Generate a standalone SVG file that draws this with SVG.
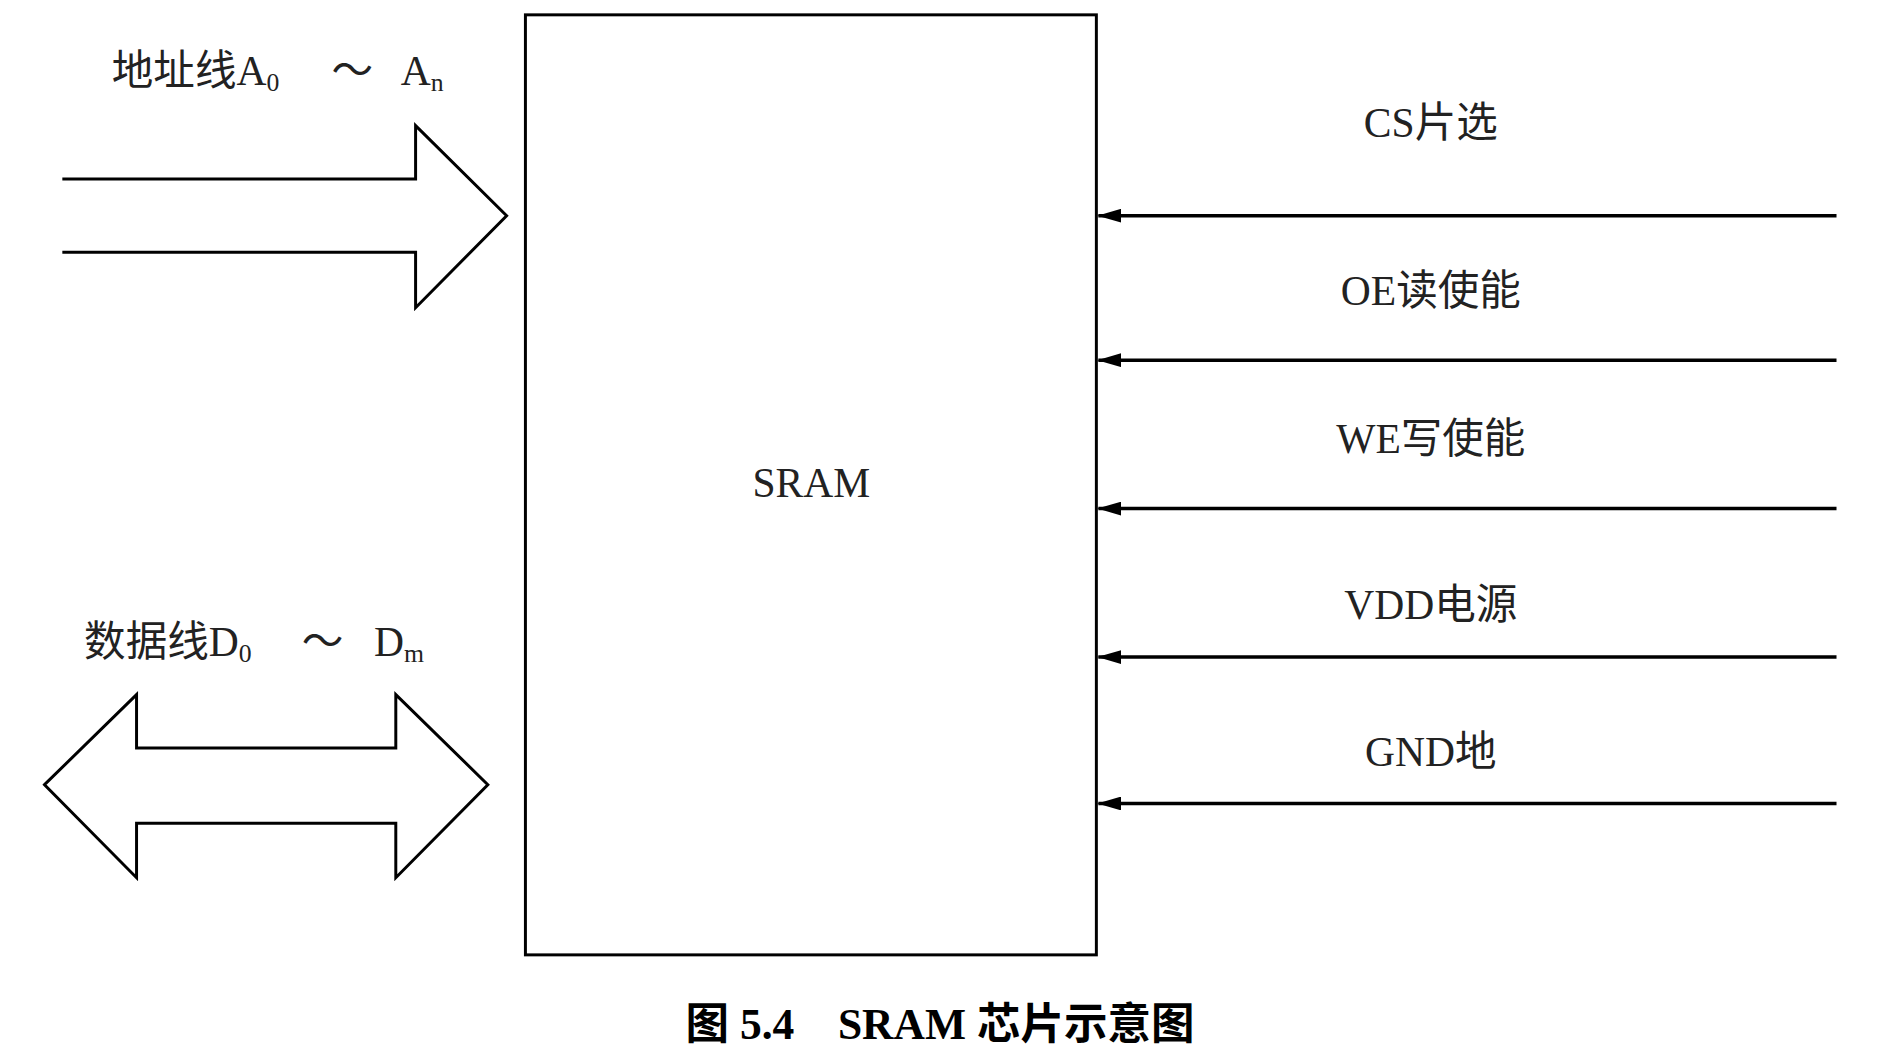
<svg xmlns="http://www.w3.org/2000/svg" width="1893" height="1046" viewBox="0 0 1893 1046">
<style>
.l{stroke:#000;stroke-width:3;fill:none}
.c{stroke:#000;stroke-width:3.5;fill:none}
.t{font-family:"Liberation Serif","Noto Sans CJK SC",serif;font-size:42px;fill:#222}
.s{font-size:26px}
</style>
<defs><marker id="a" markerWidth="24" markerHeight="14" refX="23" refY="7" orient="auto" markerUnits="userSpaceOnUse" viewBox="0 0 24 14"><path d="M0,0 L24,7 L0,14 Z" fill="#000"/></marker></defs>
<rect width="1893" height="1046" fill="#fff"/>
<g transform="scale(0.9895)">
<g id="sram"><rect x="531" y="15" width="577" height="950" class="l"/><text class="t" x="820" y="502" text-anchor="middle">SRAM</text></g>
<g id="addr"><path class="l" d="M63,181 H420 V127 L512,218 L420,311 V255 H63"/>
<text class="t" x="113" y="86">地址线A<tspan class="s" dy="6">0</tspan><tspan dy="-6" x="335">～</tspan><tspan x="405">A</tspan><tspan class="s" dy="6">n</tspan></text></g>
<g id="data"><path class="l" d="M45,793 L138,702 V756 H400 V702 L493,793 L400,887 V832 H138 V887 Z"/>
<text class="t" x="85" y="663">数据线D<tspan class="s" dy="6">0</tspan><tspan dy="-6" x="305">～</tspan><tspan x="378">D</tspan><tspan class="s" dy="6">m</tspan></text></g>
<g id="labels">
<text class="t" x="1446" y="138" text-anchor="middle">CS片选</text>
<text class="t" x="1446" y="308" text-anchor="middle">OE读使能</text>
<text class="t" x="1446" y="458" text-anchor="middle">WE写使能</text>
<text class="t" x="1446" y="626" text-anchor="middle">VDD电源</text>
<text class="t" x="1446" y="774" text-anchor="middle">GND地</text>
</g>
<g id="connectors">
<path class="c" d="M1856,218 H1110" marker-end="url(#a)"/>
<path class="c" d="M1856,364 H1110" marker-end="url(#a)"/>
<path class="c" d="M1856,514 H1110" marker-end="url(#a)"/>
<path class="c" d="M1856,664 H1110" marker-end="url(#a)"/>
<path class="c" d="M1856,812 H1110" marker-end="url(#a)"/>
</g>
<text x="950" y="1050" text-anchor="middle" style="font-family:'Liberation Serif','Noto Sans CJK SC',serif;font-size:44px;font-weight:bold" xml:space="preserve">图 5.4    SRAM 芯片示意图</text>
</g>
</svg>
